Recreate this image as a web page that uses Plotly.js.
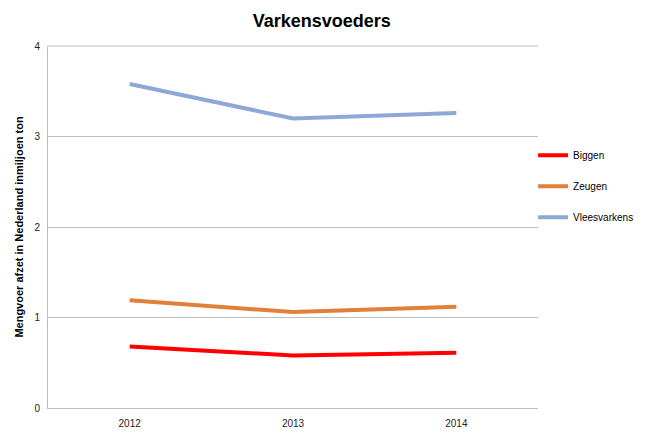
<!DOCTYPE html>
<html>
<head>
<meta charset="utf-8">
<script src="https://cdn.plot.ly/plotly-3.0.1.min.js"></script>
<style>html,body{margin:0;padding:0;background:#fff;}#chart{width:650px;height:437px;}</style>
</head>
<body>
<div id="chart"></div>
<script>
const years = ['2012', '2013', '2014'];
const biggen = [0.68, 0.58, 0.61];
const zeugen = [1.19, 1.06, 1.12];
const vleesvarkens = [3.58, 3.20, 3.26];
const seriesNames = ['Biggen', 'Zeugen', 'Vleesvarkens'];
const seriesColors = ['#FF0000', '#E0803A', '#8EA8D6'];
const seriesValues = [biggen, zeugen, vleesvarkens];

const traces = seriesValues.map((vals, i) => ({
  x: years,
  y: vals,
  name: seriesNames[i],
  type: 'scatter',
  mode: 'lines',
  legendgroup: 'g' + i,
  line: {color: seriesColors[i], width: 4}
}));

const layout = {
  width: 650,
  height: 437,
  margin: {l: 48, r: 112, t: 46, b: 29, autoexpand: false},
  paper_bgcolor: '#fff',
  plot_bgcolor: '#fff',
  font: {family: 'Liberation Sans, Arial, sans-serif', size: 10, color: '#222'},
  title: {
    text: '<b>Varkensvoeders</b>',
    font: {family: 'Liberation Sans, Arial, sans-serif', size: 18, color: '#000'},
    x: 0.495, xanchor: 'center', y: 0.952, yanchor: 'middle'
  },
  xaxis: {
    type: 'category',
    range: [-0.5, 2.5],
    showgrid: false,
    showline: true,
    linecolor: '#BDBDBD',
    linewidth: 1,
    ticks: '',
    ticklabelstandoff: 6,
    tickfont: {size: 10, color: '#222'},
    zeroline: false,
    fixedrange: true
  },
  yaxis: {
    range: [0, 4],
    dtick: 1,
    showgrid: true,
    gridcolor: '#BDBDBD',
    gridwidth: 1,
    showline: true,
    linecolor: '#BDBDBD',
    linewidth: 1,
    mirror: false,
    ticks: '',
    ticklabelstandoff: 5,
    tickfont: {size: 10, color: '#222'},
    zeroline: false,
    title: {
      text: '<b>Mengvoer afzet in Nederland inmiljoen ton</b>',
      font: {size: 11, color: '#000'},
      standoff: 8
    },
    fixedrange: true
  },
  shapes: [{
    type: 'line', xref: 'paper', yref: 'paper',
    x0: 0, x1: 1, y0: 1, y1: 1,
    line: {color: '#BDBDBD', width: 1},
    layer: 'below'
  }],
  showlegend: true,
  legend: {
    x: 0.99, xanchor: 'left',
    y: 0.738, yanchor: 'top',
    tracegroupgap: 12,
    itemwidth: 30,
    font: {size: 10, color: '#000'},
    bgcolor: 'rgba(0,0,0,0)'
  }
};

Plotly.newPlot('chart', traces, layout, {displayModeBar: false, staticPlot: true});
</script>
</body>
</html>
